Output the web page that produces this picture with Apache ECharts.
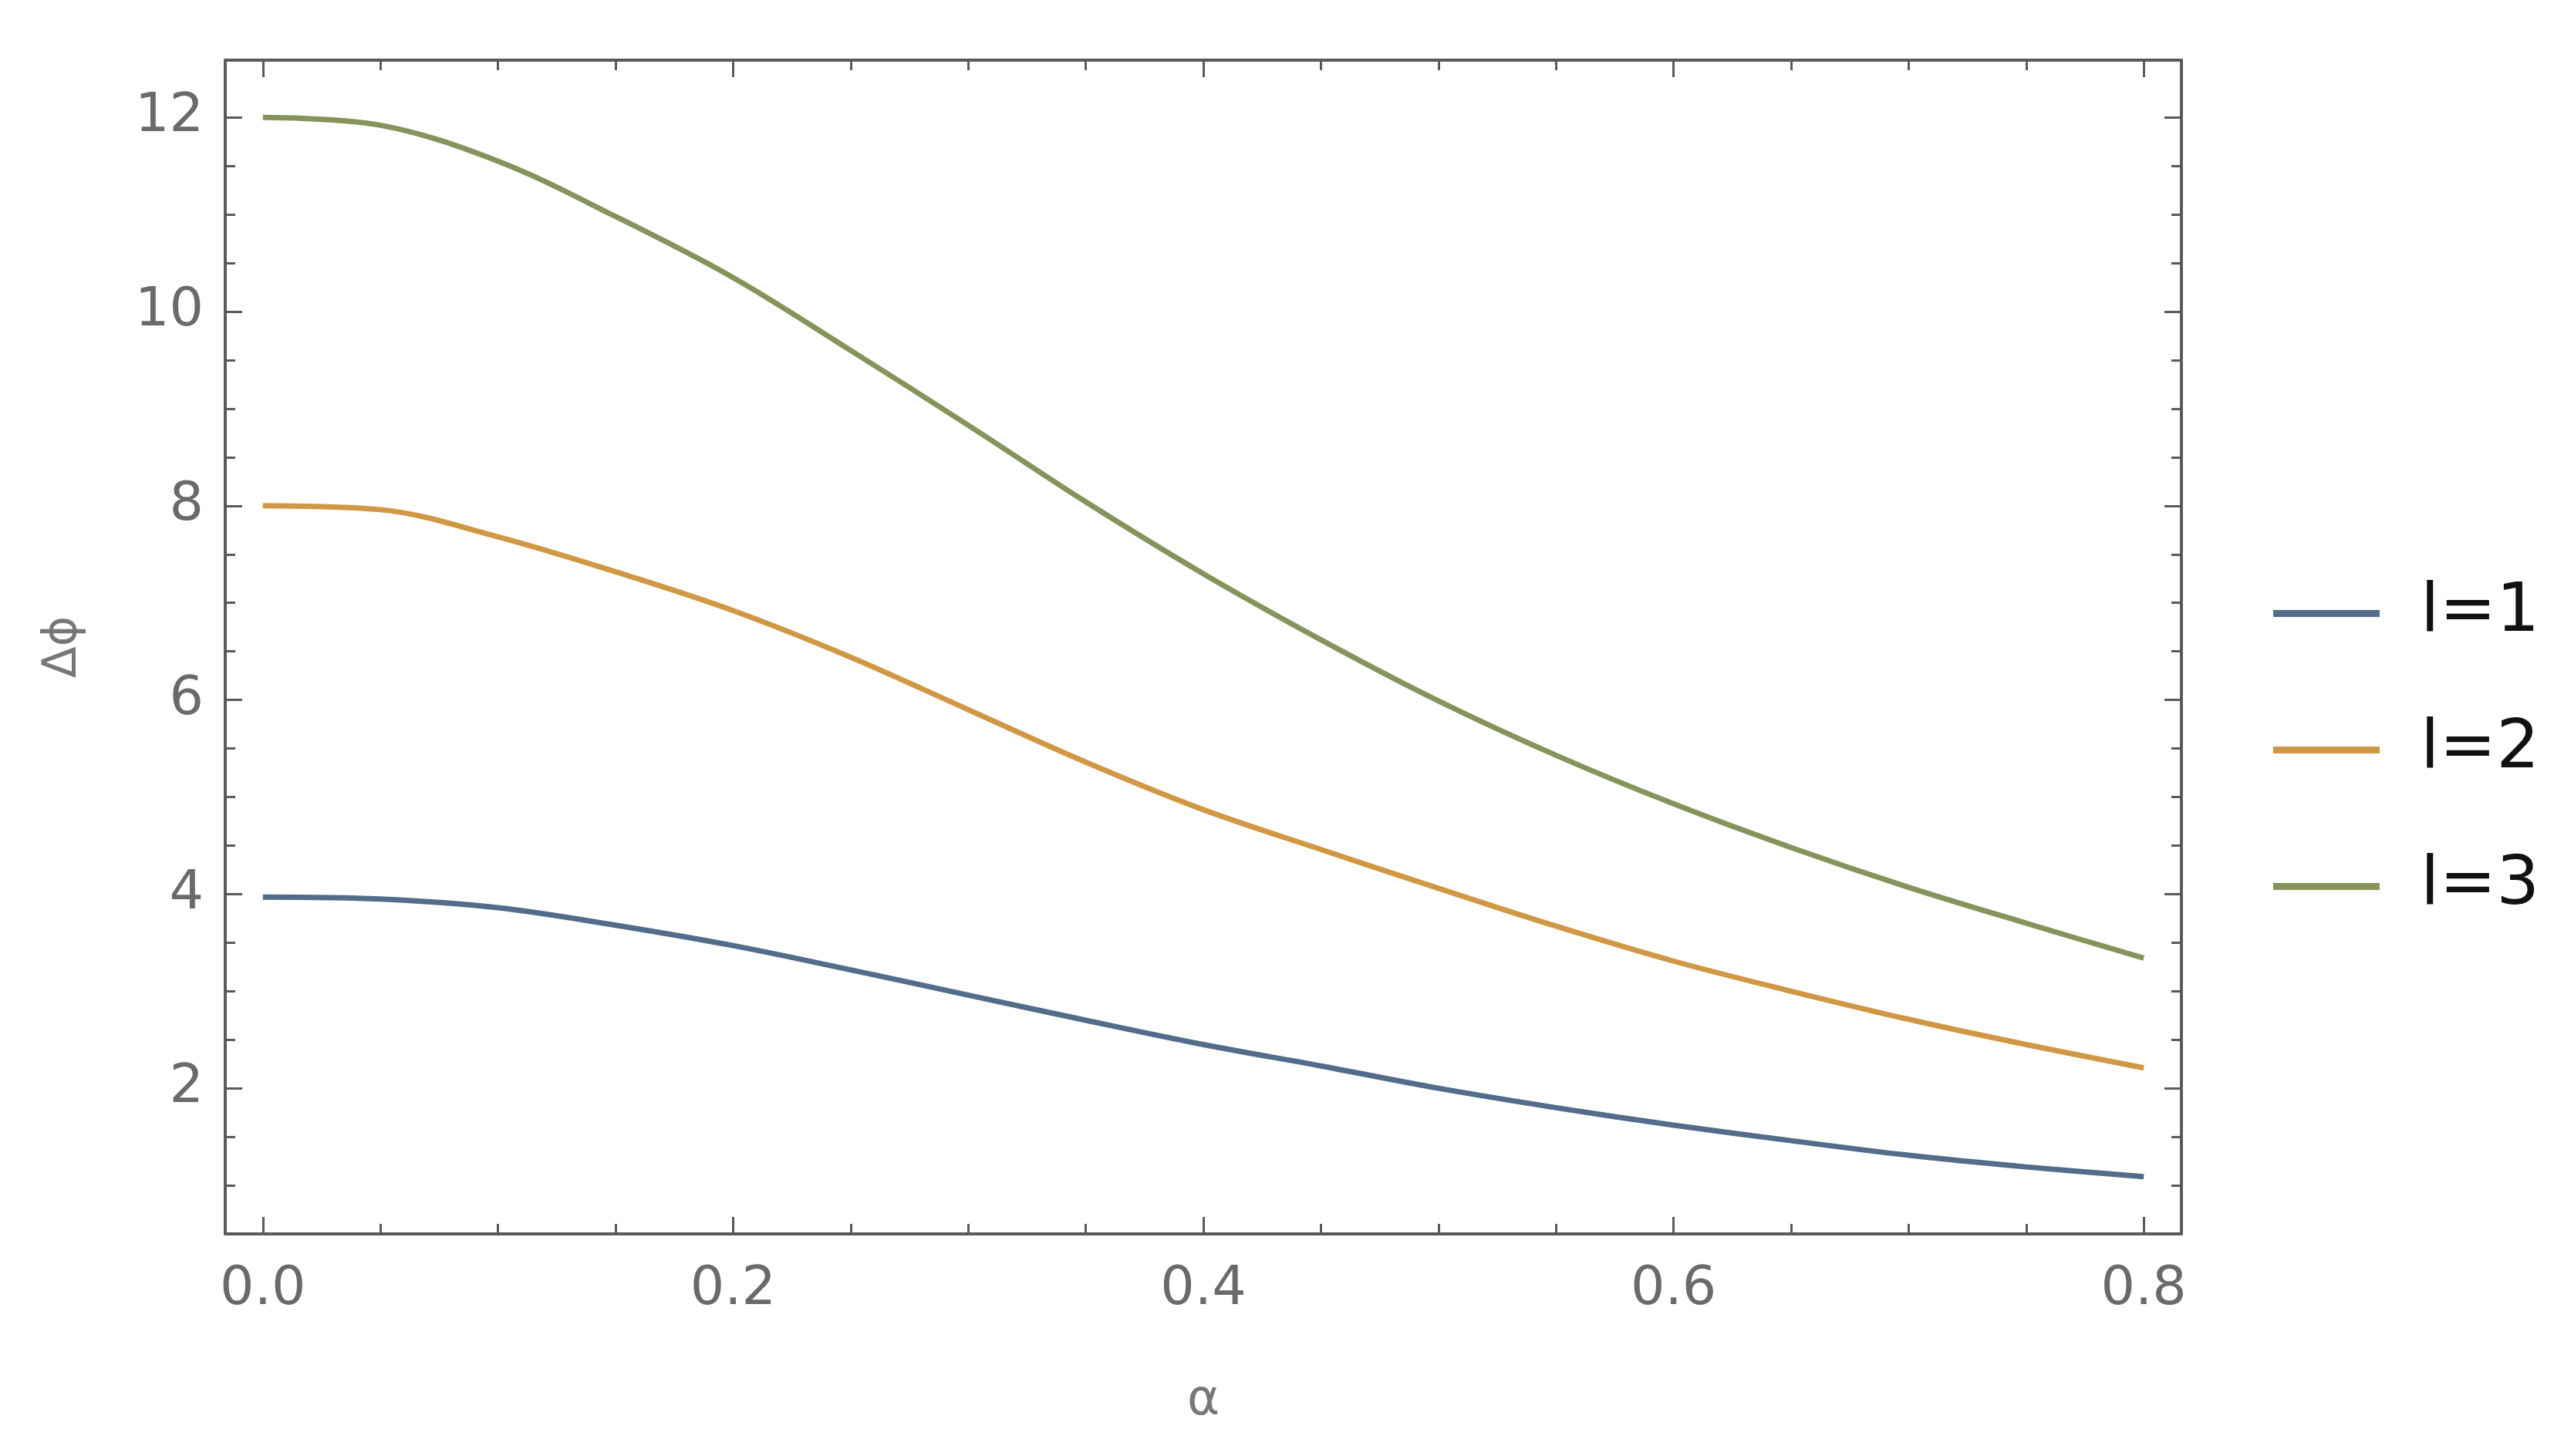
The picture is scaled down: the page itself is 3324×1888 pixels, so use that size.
<!DOCTYPE html>
<html>
<head>
<meta charset="utf-8">
<script src="https://cdn.jsdelivr.net/npm/echarts@6/dist/echarts.min.js"></script>
<style>
html,body{margin:0;padding:0;background:#fff;}
#chart{width:3324px;height:1888px;}
</style>
</head>
<body>
<div id="chart"></div>
<script>
// ---- data ----
const alphas = [0.0, 0.05, 0.1, 0.15, 0.2, 0.25, 0.3, 0.35, 0.4, 0.45, 0.5, 0.55, 0.6, 0.65, 0.7, 0.75, 0.8];
const seriesNames = ['l=1', 'l=2', 'l=3'];
const l1 = [3.97, 3.95, 3.86, 3.68, 3.47, 3.22, 2.96, 2.70, 2.45, 2.23, 2.00, 1.80, 1.62, 1.46, 1.31, 1.19, 1.09];
const l2 = [8.00, 7.96, 7.68, 7.32, 6.92, 6.44, 5.90, 5.36, 4.87, 4.46, 4.06, 3.67, 3.31, 3.00, 2.71, 2.45, 2.21];
const l3 = [12.00, 11.92, 11.55, 10.98, 10.35, 9.60, 8.83, 8.04, 7.30, 6.62, 5.99, 5.43, 4.93, 4.48, 4.07, 3.70, 3.34];
const xMajorTicks = [0.0, 0.2, 0.4, 0.6, 0.8];
const xMinorTicks = [0.05, 0.1, 0.15, 0.25, 0.3, 0.35, 0.45, 0.5, 0.55, 0.65, 0.7, 0.75];
const yMajorTicks = [2, 4, 6, 8, 10, 12];
const yMinorTicks = [1, 1.5, 2.5, 3, 3.5, 4.5, 5, 5.5, 6.5, 7, 7.5, 8.5, 9, 9.5, 10.5, 11, 11.5];
const xTitle = 'α';
const yTitle = 'Δϕ';

// ---- chart ----
const X_MIN = -0.016, X_MAX = 0.816, Y_MIN = 0.5, Y_MAX = 12.59;
const frameColor = '#5a5a5a';
const colors = ['#526c8a', '#d09844', '#84945a'];
const labelFont = 'DejaVu Sans';

function xAxisDef(pos, ticks, len, showLine, showLabel) {
  return {
    type: 'value', position: pos, min: X_MIN, max: X_MAX,
    axisLine: {show: showLine, onZero: false, lineStyle: {color: frameColor, width: 4}},
    axisTick: {show: true, inside: true, length: len, customValues: ticks, lineStyle: {color: frameColor, width: 3}},
    axisLabel: showLabel ? {show: true, customValues: ticks, formatter: v => v.toFixed(1), color: '#6a6a6a', fontSize: 70, fontFamily: labelFont, margin: 38} : {show: false},
    splitLine: {show: false}, minorTick: {show: false}
  };
}
function yAxisDef(pos, ticks, len, showLine, showLabel) {
  return {
    type: 'value', position: pos, min: Y_MIN, max: Y_MAX,
    axisLine: {show: showLine, onZero: false, lineStyle: {color: frameColor, width: 4}},
    axisTick: {show: true, inside: true, length: len, customValues: ticks, lineStyle: {color: frameColor, width: 3}},
    axisLabel: showLabel ? {show: true, customValues: ticks, formatter: v => String(v), color: '#6a6a6a', fontSize: 70, fontFamily: labelFont, margin: 28} : {show: false},
    splitLine: {show: false}, minorTick: {show: false}
  };
}

const xAxes = [
  xAxisDef('bottom', xMajorTicks, 22, true, true),
  xAxisDef('bottom', xMinorTicks, 13, false, false),
  xAxisDef('top', xMajorTicks, 22, true, false),
  xAxisDef('top', xMinorTicks, 13, false, false)
];
xAxes[0].name = xTitle;
xAxes[0].nameLocation = 'middle';
xAxes[0].nameGap = 185;
xAxes[0].nameTextStyle = {color: '#777', fontSize: 64, fontFamily: labelFont};

const yAxes = [
  yAxisDef('left', yMajorTicks, 22, true, true),
  yAxisDef('left', yMinorTicks, 13, false, false),
  yAxisDef('right', yMajorTicks, 22, true, false),
  yAxisDef('right', yMinorTicks, 13, false, false)
];
yAxes[0].name = yTitle;
yAxes[0].nameLocation = 'middle';
yAxes[0].nameGap = 180;
yAxes[0].nameTextStyle = {color: '#777', fontSize: 60, fontFamily: labelFont};

const allSeries = [l1, l2, l3];
const series = allSeries.map((vals, i) => ({
  name: seriesNames[i],
  type: 'line',
  xAxisIndex: 0, yAxisIndex: 0,
  smooth: 0.35,
  showSymbol: false,
  lineStyle: {color: colors[i], width: 7},
  itemStyle: {color: colors[i]},
  data: alphas.map((a, k) => [a, vals[k]])
}));

const chart = echarts.init(document.getElementById('chart'), null, {renderer: 'canvas'});
chart.setOption({
  animation: false,
  backgroundColor: '#ffffff',
  grid: {left: 292, right: 496, top: 78, bottom: 288, containLabel: false, outerBoundsMode: 'none'},
  xAxis: xAxes,
  yAxis: yAxes,
  legend: {
    orient: 'vertical',
    left: 2942, top: 738,
    itemWidth: 138, itemHeight: 9,
    itemGap: 72,
    icon: 'rect',
    textStyle: {fontSize: 88, fontFamily: labelFont, color: '#111', padding: [0, 0, 0, 48], lineHeight: 105},
    data: seriesNames
  },
  series: series
});
</script>
</body>
</html>
